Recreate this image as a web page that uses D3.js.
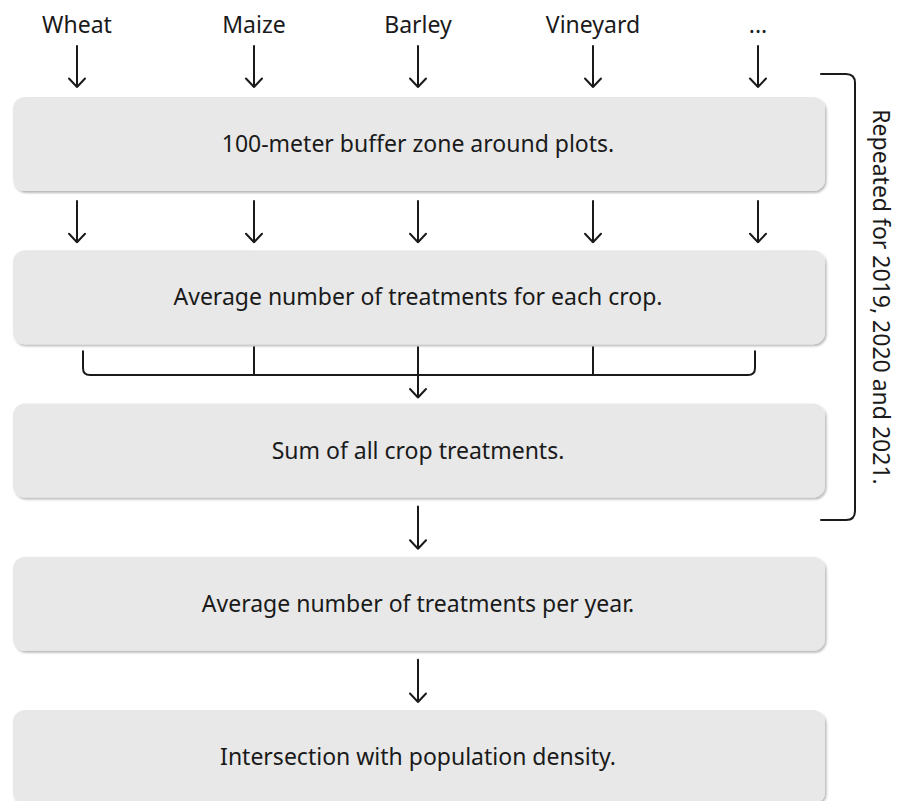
<!DOCTYPE html>
<html lang="en">
<head>
<meta charset="UTF-8">
<title>Treatment workflow</title>
<script src="https://d3js.org/d3.v7.min.js"></script>
<style>
  body { margin: 0; background: #fff; }
  svg { display: block; }
  .label { font-family: "Noto Sans", sans-serif; font-size: 23px; fill: #1a1a1a; }
  .box { fill: #e8e8e8; }
  .flow { fill: none; stroke: #1a1a1a; stroke-width: 2; stroke-linecap: round; stroke-linejoin: round; }
</style>
</head>
<body>
<svg id="chart" width="898" height="801"></svg>
<script>
// crops fed into the workflow
var crops = ["Wheat", "Maize", "Barley", "Vineyard", "..."];
// workflow steps, top to bottom
var steps = [
  "100-meter buffer zone around plots.",
  "Average number of treatments for each crop.",
  "Sum of all crop treatments.",
  "Average number of treatments per year.",
  "Intersection with population density."
];
var repeatNote = "Repeated for 2019, 2020 and 2021.";

const width = 898, height = 801;
const svg = d3.select("#chart");

const defs = svg.append("defs");
const f = defs.append("filter").attr("id", "shadow")
  .attr("x", "-5%").attr("y", "-10%").attr("width", "110%").attr("height", "125%");
f.append("feDropShadow").attr("dx", 1.5).attr("dy", 2).attr("stdDeviation", 1.2)
  .attr("flood-color", "#000").attr("flood-opacity", 0.28);

// column positions of the crops
const x = d3.scaleOrdinal().domain(crops).range([77, 254, 418, 593, 758]);
const boxLeft = 13, boxRight = 825, boxH = 94;
const y = d3.scaleLinear().domain([0, steps.length - 1]).range([97, 710]);
const midX = x("Barley");

function arrow(g, cx, y0, y1) {
  g.append("path").attr("class", "flow")
    .attr("d", `M${cx},${y0}V${y1}M${cx - 8},${y1 - 8.5}L${cx},${y1}L${cx + 8},${y1 - 8.5}`);
}

// boxes
const boxes = svg.selectAll(".step").data(steps).enter().append("g").attr("class", "step");
boxes.append("rect").attr("class", "box")
  .attr("x", boxLeft).attr("y", (d, i) => y(i))
  .attr("width", boxRight - boxLeft).attr("height", boxH)
  .attr("rx", 12).attr("filter", "url(#shadow)");
boxes.append("text").attr("class", "label")
  .attr("x", midX).attr("y", (d, i) => y(i) + boxH / 2)
  .attr("text-anchor", "middle").attr("dy", "0.35em")
  .text(d => d);

// crop labels and arrows
const g = svg.append("g");
svg.selectAll(".crop").data(crops).enter().append("text")
  .attr("class", "label crop")
  .attr("x", d => x(d)).attr("y", 33)
  .attr("text-anchor", "middle")
  .text(d => d);

crops.forEach(c => {
  arrow(g, x(c), 46, 87);
  arrow(g, x(c), y(0) + boxH + 10, y(1) - 8);
});

// bracket collecting the crops
const bTop = y(1) + boxH + 3, bY = 375, r = 7;
const first = x(crops[0]) + 6, last = x(crops[crops.length - 1]) - 3;
g.append("path").attr("class", "flow")
  .attr("d", `M${first},${bTop + 4}V${bY - r}Q${first},${bY} ${first + r},${bY}H${last - r}Q${last},${bY} ${last},${bY - r}V${bTop + 4}`);
crops.slice(1, -1).forEach(c => {
  if (c !== "Barley") g.append("path").attr("class", "flow").attr("d", `M${x(c)},${bTop}V${bY}`);
});
arrow(g, midX, bTop, y(2) - 6);

// arrows between the later steps
for (let i = 2; i < steps.length - 1; i++) {
  arrow(g, midX, y(i) + boxH + 9, y(i + 1) - 8);
}

// bracket for repeated years
const rTop = 74, rBot = 520, rx = 855, rl = 821, rr = 9;
g.append("path").attr("class", "flow")
  .attr("d", `M${rl},${rTop}H${rx - rr}Q${rx},${rTop} ${rx},${rTop + rr}V${rBot - rr}Q${rx},${rBot} ${rx - rr},${rBot}H${rl}`);
svg.append("text").attr("class", "label")
  .attr("transform", `translate(873,${(rTop + rBot) / 2}) rotate(90)`)
  .attr("text-anchor", "middle")
  .text(repeatNote);
</script>
</body>
</html>
